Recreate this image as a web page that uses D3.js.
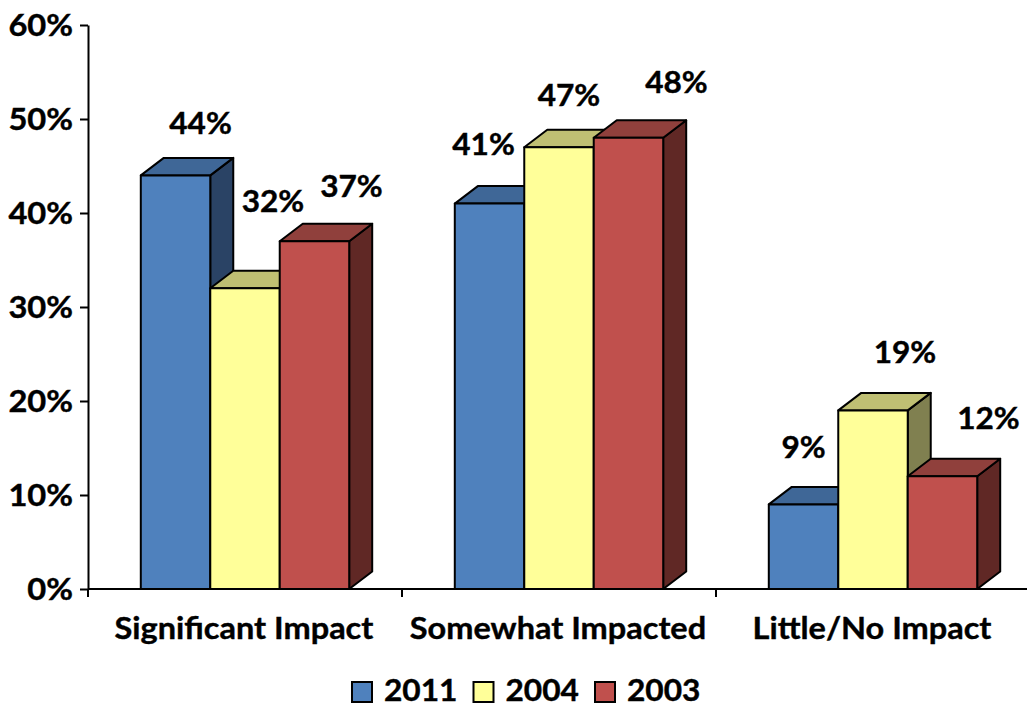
<!DOCTYPE html>
<html><head><meta charset="utf-8">
<script src="https://cdn.jsdelivr.net/npm/d3@7"></script>
<style>
html,body{margin:0;padding:0;background:#fff}
svg{display:block}
text{font-family:Lato,"Open Sans",sans-serif;font-weight:700;fill:#000;stroke:#000;stroke-width:0.4px;font-size:31px}
</style></head><body>
<svg id="c" width="1027" height="707"></svg>
<script>
const categories = ["Significant Impact","Somewhat Impacted","Little/No Impact"];
const seriesNames = ["2011","2004","2003"];
const values2011 = [44,41,9];
const values2004 = [32,47,19];
const values2003 = [37,48,12];
const yTicks = [0,10,20,30,40,50,60];
const seriesValues = [values2011,values2004,values2003];
const colors = [
 {front:"#4F81BD",top:"#3F6797",side:"#2A4365"},
 {front:"#FFFF99",top:"#BFBF73",side:"#808050"},
 {front:"#C0504D",top:"#90403C",side:"#602825"}];
// hand-placed label offsets from the top-centre of each bar [series][category]
const labelOffsets = [
 [[25,-52],[-6,-59],[0,-57]],
 [[28,-87],[10,-52],[32,-58]],
 [[37,-55],[48,-55],[46,-58]]];

// widen the glyphs a little so the metrics match the reference face
function widen(sel,f){
 sel.each(function(){
  this.setAttribute("textLength",this.getComputedTextLength()*f);
  this.setAttribute("lengthAdjust","spacingAndGlyphs");
 });
}

const svg = d3.select("#c");
const y = d3.scaleLinear().domain([0,60]).range([589,25]);
const x0 = d3.scaleBand().domain(categories).range([88,1030]);
const x1 = d3.scaleBand().domain(seriesNames).range([0,x0.bandwidth()]).paddingOuter(0.76).paddingInner(0);
const dx=23, dy=-17.5;

// axes
const yAxis = d3.axisLeft(y).tickValues(yTicks).tickFormat(d=>d+"%").tickSize(8).tickSizeOuter(0);
const gy = svg.append("g").attr("transform","translate(88,0)").call(yAxis);
gy.selectAll("path,line").attr("stroke","#000").attr("stroke-width",2);
gy.selectAll("text").attr("x",-15).attr("dy","0.34em").style("font-size","31px").call(widen,1.053);
const xBase = svg.append("g");
xBase.append("line").attr("x1",88).attr("x2",1027).attr("y1",y(0)).attr("y2",y(0)).attr("stroke","#000").attr("stroke-width",2);
xBase.selectAll("line.t").data(categories.concat([null])).join("line").attr("class","t")
 .attr("x1",(d,i)=>88+i*x0.step()).attr("x2",(d,i)=>88+i*x0.step())
 .attr("y1",y(0)).attr("y2",y(0)+8).attr("stroke","#000").attr("stroke-width",2);
svg.append("g").selectAll("text").data(categories).join("text")
 .attr("x",d=>x0(d)+x0.bandwidth()/2-1).attr("y",639).attr("text-anchor","middle").text(d=>d).call(widen,1.048);

// bars
const bars = svg.append("g").attr("stroke","#000").attr("stroke-width",2).attr("stroke-linejoin","round");
categories.forEach((cat,ci)=>{
 seriesNames.forEach((s,si)=>{
  const v = seriesValues[si][ci];
  const l = x0(cat)+x1(s), r = l+x1.bandwidth(), t = y(v), b = y(0);
  const g = bars.append("g");
  g.append("path").attr("fill",colors[si].side)
   .attr("d",`M${r},${t}L${r+dx},${t+dy}L${r+dx},${b+dy}L${r},${b}Z`);
  g.append("path").attr("fill",colors[si].top)
   .attr("d",`M${l},${t}L${l+dx},${t+dy}L${r+dx},${t+dy}L${r},${t}Z`);
  g.append("rect").attr("fill",colors[si].front)
   .attr("x",l).attr("y",t).attr("width",r-l).attr("height",b-t);
 });
});
// labels
categories.forEach((cat,ci)=>{
 seriesNames.forEach((s,si)=>{
  const v = seriesValues[si][ci];
  svg.append("text").attr("text-anchor","middle").attr("dominant-baseline","central")
   .attr("x",x0(cat)+x1(s)+x1.bandwidth()/2+labelOffsets[si][ci][0])
   .attr("y",y(v)+labelOffsets[si][ci][1]-1.5).text(v+"%").call(widen,1.02);
 });
});
// legend
const lx = d3.scalePoint().domain(seriesNames).range([352,595]);
const lg = svg.append("g").selectAll("g").data(seriesNames).join("g").attr("transform",d=>`translate(${lx(d)},0)`);
lg.append("rect").attr("y",682).attr("width",20).attr("height",20)
 .attr("fill",(d,i)=>colors[i].front).attr("stroke","#000").attr("stroke-width",2);
lg.append("text").attr("x",32).attr("y",700.5).style("font-size","30px").text(d=>d).call(widen,1.055);
</script></body></html>
